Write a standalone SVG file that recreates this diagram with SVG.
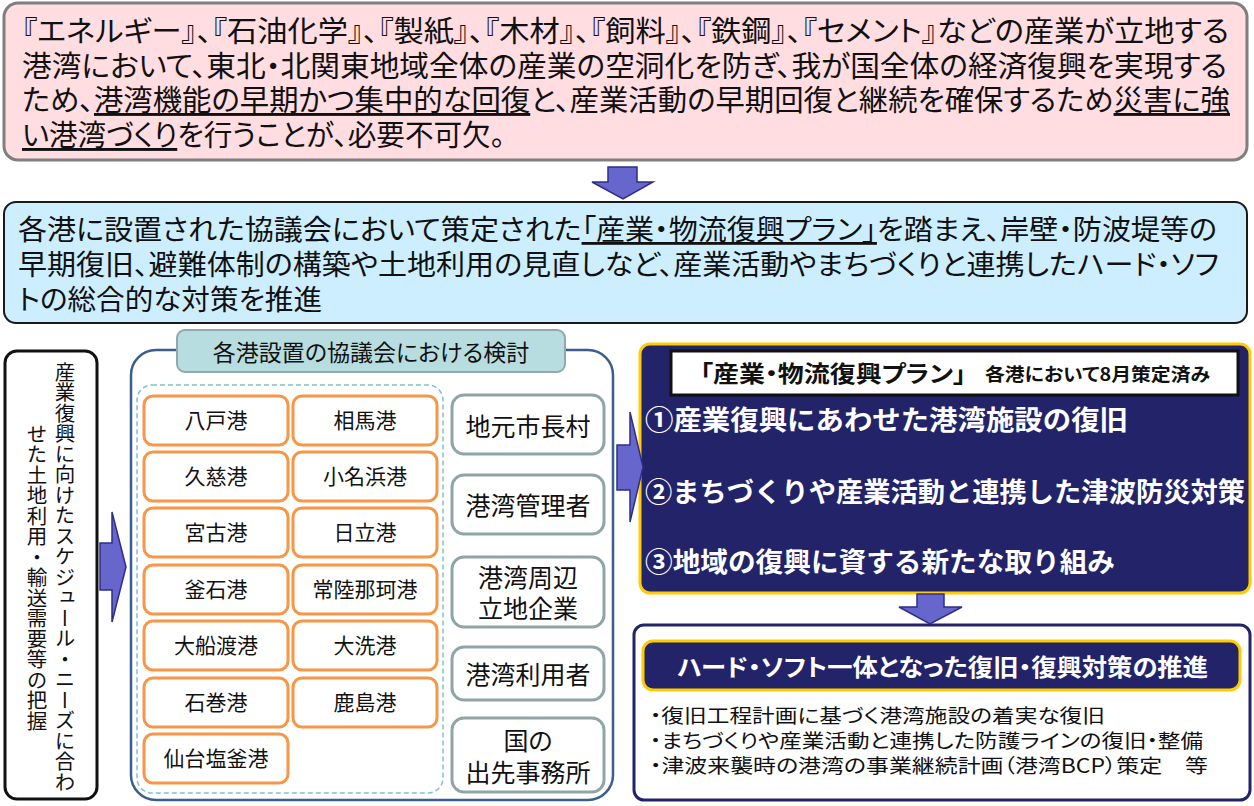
<svg xmlns="http://www.w3.org/2000/svg" width="1254" height="806" viewBox="0 0 1254 806">
<style>
text{font-family:"Noto Sans CJK JP","Noto Sans CJK SC",sans-serif;fill:#111;font-feature-settings:"palt" 1;}
.big{font-size:29px;}
.mid{font-size:28px;}
.port{font-size:21px;text-anchor:middle;}
.stk{font-size:25px;text-anchor:middle;}
.wb{fill:#fff;font-weight:bold;}
.u{text-decoration:underline;}
.portbox{fill:#fff;stroke:#F79646;stroke-width:3;}
.stkbox{fill:#fff;stroke:#8FA5A8;stroke-width:3;}
.arrow{fill:#6666CC;stroke:#2E2E8A;stroke-width:1.5;stroke-linejoin:miter;}
</style>
<rect width="1254" height="806" fill="#fff"/>

<g id="intro">
<rect x="4" y="3" width="1243" height="157" rx="14" fill="#FFDDE1" stroke="#7F7F7F" stroke-width="3"/>
<text class="big"><tspan x="22" y="42" textLength="1207" lengthAdjust="spacingAndGlyphs">『エネルギー』、『石油化学』、『製紙』、『木材』、『飼料』、『鉄鋼』、『セメント』などの産業が立地する</tspan><tspan x="22" y="77" textLength="1205" lengthAdjust="spacingAndGlyphs">港湾において、東北・北関東地域全体の産業の空洞化を防ぎ、我が国全体の経済復興を実現する</tspan><tspan x="22" y="111" textLength="1208" lengthAdjust="spacingAndGlyphs">ため、<tspan class="u">港湾機能の早期かつ集中的な回復</tspan>と、産業活動の早期回復と継続を確保するため<tspan class="u">災害に強</tspan></tspan><tspan x="22" y="146" textLength="483" lengthAdjust="spacingAndGlyphs"><tspan class="u">い港湾づくり</tspan>を行うことが、必要不可欠。</tspan></text>
</g>

<g id="policy">
<rect x="4" y="202" width="1243" height="121" rx="12" fill="#CCEEFF" stroke="#1a1a1a" stroke-width="2"/>
<text class="mid"><tspan x="18" y="240" textLength="1199" lengthAdjust="spacingAndGlyphs">各港に設置された協議会において策定された<tspan class="u">「産業・物流復興プラン」</tspan>を踏まえ、岸壁・防波堤等の</tspan><tspan x="18" y="275" textLength="1201" lengthAdjust="spacingAndGlyphs">早期復旧、避難体制の構築や土地利用の見直しなど、産業活動やまちづくりと連携したハード・ソフ</tspan><tspan x="18" y="310" textLength="304" lengthAdjust="spacingAndGlyphs">トの総合的な対策を推進</tspan></text>
</g>

<g id="needs">
<rect x="5" y="351" width="92" height="448" rx="12" fill="#fff" stroke="#111" stroke-width="3"/>
<text style="writing-mode:vertical-rl;font-size:20.5px;text-anchor:middle;font-feature-settings:normal"><tspan x="65" y="577">産業復興に向けたスケジュール・ニーズに合わ</tspan><tspan x="37" y="577">せた土地利用・輸送需要等の把握</tspan></text>
</g>

<g id="council">
<rect x="131" y="350" width="482" height="450" rx="25" fill="#fff" stroke="#3B5E8C" stroke-width="2.5"/>
<rect x="177" y="330" width="388" height="42" rx="8" fill="#B7DDE0" stroke="#8FAAAD" stroke-width="2"/>
<text x="371" y="361" style="font-size:23px;text-anchor:middle">各港設置の協議会における検討</text>
<rect x="137" y="385" width="306" height="408" rx="15" fill="none" stroke="#7FC4CC" stroke-width="1.5" stroke-dasharray="5 3"/>
</g>

<g id="ports">
<g id="port-hachinohe"><rect class="portbox" x="144" y="396" width="144" height="49" rx="9"/><text class="port" x="216" y="428">八戸港</text></g>
<g id="port-soma"><rect class="portbox" x="293" y="396" width="144" height="49" rx="9"/><text class="port" x="365" y="428">相馬港</text></g>
<g id="port-kuji"><rect class="portbox" x="144" y="452" width="144" height="49" rx="9"/><text class="port" x="216" y="484">久慈港</text></g>
<g id="port-onahama"><rect class="portbox" x="293" y="452" width="144" height="49" rx="9"/><text class="port" x="365" y="484">小名浜港</text></g>
<g id="port-miyako"><rect class="portbox" x="144" y="508" width="144" height="49" rx="9"/><text class="port" x="216" y="540">宮古港</text></g>
<g id="port-hitachi"><rect class="portbox" x="293" y="508" width="144" height="49" rx="9"/><text class="port" x="365" y="540">日立港</text></g>
<g id="port-kamaishi"><rect class="portbox" x="144" y="565" width="144" height="49" rx="9"/><text class="port" x="216" y="597">釜石港</text></g>
<g id="port-hitachinaka"><rect class="portbox" x="293" y="565" width="144" height="49" rx="9"/><text class="port" x="365" y="597">常陸那珂港</text></g>
<g id="port-ofunato"><rect class="portbox" x="144" y="621" width="144" height="49" rx="9"/><text class="port" x="216" y="653">大船渡港</text></g>
<g id="port-oarai"><rect class="portbox" x="293" y="621" width="144" height="49" rx="9"/><text class="port" x="365" y="653">大洗港</text></g>
<g id="port-ishinomaki"><rect class="portbox" x="144" y="678" width="144" height="49" rx="9"/><text class="port" x="216" y="710">石巻港</text></g>
<g id="port-kashima"><rect class="portbox" x="293" y="678" width="144" height="49" rx="9"/><text class="port" x="365" y="710">鹿島港</text></g>
<g id="port-sendai"><rect class="portbox" x="144" y="734" width="144" height="49" rx="9"/><text class="port" x="216" y="766">仙台塩釜港</text></g>
</g>

<g id="stakeholders">
<g id="stk-municipal"><rect class="stkbox" x="452" y="395" width="152" height="59" rx="12"/><text class="stk" x="528" y="436">地元市長村</text></g>
<g id="stk-manager"><rect class="stkbox" x="452" y="475" width="152" height="59" rx="12"/><text class="stk" x="528" y="515">港湾管理者</text></g>
<g id="stk-companies"><rect class="stkbox" x="452" y="557" width="152" height="70" rx="12"/><text class="stk"><tspan x="528" y="587">港湾周辺</tspan><tspan x="528" y="618">立地企業</tspan></text></g>
<g id="stk-users"><rect class="stkbox" x="452" y="647" width="152" height="53" rx="12"/><text class="stk" x="528" y="684">港湾利用者</text></g>
<g id="stk-state"><rect class="stkbox" x="452" y="718" width="152" height="74" rx="12"/><text class="stk"><tspan x="528" y="750">国の</tspan><tspan x="528" y="782">出先事務所</tspan></text></g>
</g>

<g id="plan">
<rect x="640" y="344" width="610" height="249" rx="10" fill="#23236A" stroke="#FFCC00" stroke-width="3"/>
<rect x="671" y="351" width="567" height="44" fill="#fff" stroke="#111" stroke-width="3"/>
<text x="700" y="382" style="font-size:23px;font-weight:bold" textLength="266" lengthAdjust="spacingAndGlyphs">「産業・物流復興プラン」</text>
<text x="985" y="381" style="font-size:18px;font-weight:bold" textLength="225" lengthAdjust="spacingAndGlyphs">各港において8月策定済み</text>
<text class="wb" x="645" y="430" style="font-size:27px;font-feature-settings:normal" textLength="483" lengthAdjust="spacingAndGlyphs">①産業復興にあわせた港湾施設の復旧</text>
<text class="wb" x="645" y="502" style="font-size:27px;font-feature-settings:normal" textLength="600" lengthAdjust="spacingAndGlyphs">②まちづくりや産業活動と連携した津波防災対策</text>
<text class="wb" x="645" y="572" style="font-size:27px;font-feature-settings:normal" textLength="470" lengthAdjust="spacingAndGlyphs">③地域の復興に資する新たな取り組み</text>
</g>

<g id="measures">
<rect x="634" y="625" width="616" height="175" rx="10" fill="#fff" stroke="#23236A" stroke-width="3"/>
<rect x="643" y="641" width="597" height="49" rx="10" fill="#23236A" stroke="#FFCC00" stroke-width="3"/>
<text class="wb" x="677" y="676" style="font-size:24px" textLength="531" lengthAdjust="spacingAndGlyphs">ハード・ソフト一体となった復旧・復興対策の推進</text>
<text style="font-size:19.5px"><tspan x="650" y="723" textLength="455" lengthAdjust="spacingAndGlyphs">・復旧工程計画に基づく港湾施設の着実な復旧</tspan><tspan x="650" y="748" textLength="553" lengthAdjust="spacingAndGlyphs">・まちづくりや産業活動と連携した防護ラインの復旧・整備</tspan><tspan x="650" y="773" textLength="558" lengthAdjust="spacingAndGlyphs">・津波来襲時の港湾の事業継続計画（港湾BCP）策定　等</tspan></text>
</g>

<g id="connectors">
<polygon class="arrow" points="608,167 637,167 637,182 653,182 623,199 592,182 608,182"/>
<polygon class="arrow" points="100,543 112,543 112,512 126,567 112,622 112,590 100,590"/>
<polygon class="arrow" points="617,445 630,445 630,412 643,467 630,522 630,490 617,490"/>
<polygon class="arrow" points="917,594 944,594 944,607 962,607 930,624 899,607 917,607"/>
</g>
</svg>
